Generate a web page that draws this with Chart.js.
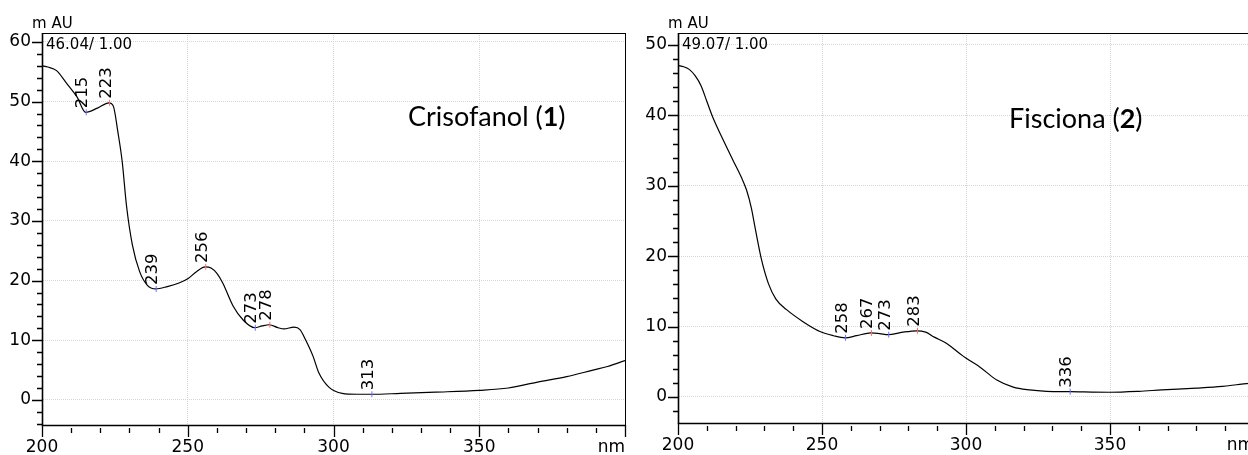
<!DOCTYPE html>
<html>
<head>
<meta charset="utf-8">
<script src="https://cdn.jsdelivr.net/npm/chart.js@4.4.1/dist/chart.umd.min.js"></script>
<style>
  html, body { margin: 0; padding: 0; background: #fff; overflow: hidden; }
  body { width: 1248px; height: 455px; position: relative; }
  .panel { position: absolute; top: 0; height: 455px; }
</style>
</head>
<body>
<div class="panel" style="left:0;width:640px"><canvas id="c1"></canvas></div>
<div class="panel" style="left:630px;width:640px"><canvas id="c2"></canvas></div>
<script>
// Crisofanol (1) - wavelength (nm) / absorbance (mAU)
const wl1 = [200, 202, 205, 208.4, 212, 215, 219, 223, 224.5, 226, 227.5, 229, 231, 233.5, 236, 239,
  243, 247, 250, 253, 256, 258, 260, 262, 265.5, 269, 273, 275.5, 278, 281, 283, 286.5, 288.5, 290.5,
  293, 295, 298.5, 303, 308, 313, 323, 335, 350, 360, 370, 380, 389, 394, 400];
const abs1 = [56.0, 55.8, 55.2, 53.1, 50.8, 48.2, 48.9, 49.8, 49.2, 45.0, 40.0, 32.5, 26.0, 21.5, 19.3, 18.6,
  19.0, 19.6, 20.3, 21.5, 22.3, 22.1, 21.2, 19.6, 15.8, 13.4, 12.1, 12.4, 12.6, 12.1, 11.9, 12.2, 11.8, 10.0,
  7.3, 4.5, 2.1, 1.1, 0.95, 0.95, 1.1, 1.3, 1.6, 2.0, 3.0, 3.9, 5.0, 5.6, 6.6];
const peaks1 = [215, 223, 239, 256, 273, 278, 313];
const kinds1 = ['min', 'max', 'min', 'max', 'min', 'max', 'min'];
const yTicks1 = [-4, -2, 0, 2, 4, 6, 8, 10, 12, 14, 16, 18, 20, 22, 24, 26, 28, 30,
  32, 34, 36, 38, 40, 42, 44, 46, 48, 50, 52, 54, 56, 58, 60];

// Fisciona (2)
const wl2 = [200, 202, 204, 206, 208, 210, 212, 215, 219, 222, 223.8, 225.5, 226.7, 229, 231.4, 234,
  237.7, 243.4, 249.3, 254, 258, 262, 267, 270, 273, 278, 283, 286, 289, 293.3, 299, 302, 305, 310.7,
  316.4, 322, 328, 336, 350, 360, 368, 380, 389, 395, 400];
const abs2 = [47.1, 46.9, 46.5, 45.6, 44.2, 42.0, 39.8, 37.1, 33.7, 31.2, 29.4, 26.8, 24.2, 19.5, 16.1, 13.9,
  12.4, 10.7, 9.3, 8.7, 8.4, 8.7, 9.1, 9.0, 8.85, 9.2, 9.4, 9.2, 8.5, 7.6, 5.8, 5.0, 4.2, 2.4,
  1.4, 1.0, 0.8, 0.75, 0.67, 0.8, 1.0, 1.25, 1.5, 1.8, 2.0];
const peaks2 = [258, 267, 273, 283, 336];
const kinds2 = ['min', 'max', 'min', 'max', 'min'];
const yTicks2 = [-2, 0, 2, 4, 6, 8, 10, 12, 14, 16, 18, 20, 22, 24, 26, 28, 30,
  32, 34, 36, 38, 40, 42, 44, 46, 48, 50];

// shared wavelength axis
const xTickValues = [200, 210, 220, 230, 240, 250, 260, 270, 280, 290, 300,
  310, 320, 330, 340, 350, 360, 370, 380, 390, 400];
const xMajor = 50;
const yMajor = 10;

const tickFont = { family: '"DejaVu Sans"', size: 17 };

const isMult = (v, m) => Math.abs(v / m - Math.round(v / m)) < 1e-6;

const spectrumDecor = {
  id: 'spectrumDecor',
  afterDraw(chart, args, o) {
    const { ctx, chartArea: a, scales: { x, y } } = chart;
    ctx.save();
    ctx.strokeStyle = '#000';

    // frame
    ctx.lineWidth = 1;
    ctx.strokeRect(a.left + 0.5, a.top + 0.5, a.right - a.left, a.bottom - a.top);
    ctx.lineWidth = 1.6;
    ctx.beginPath();
    ctx.moveTo(a.left + 0.5, a.top);
    ctx.lineTo(a.left + 0.5, a.bottom + 0.5);
    ctx.lineTo(a.right + 1, a.bottom + 0.5);
    ctx.stroke();

    // tick marks, long at the labelled values
    ctx.lineWidth = 1.3;
    ctx.beginPath();
    x.ticks.forEach(t => {
      const px = Math.round(x.getPixelForValue(t.value)) + 0.5;
      const major = isMult(t.value, xMajor);
      ctx.moveTo(px, a.bottom + (major ? 0 : 3));
      ctx.lineTo(px, a.bottom + (major ? 12 : 8));
    });
    y.ticks.forEach(t => {
      const py = Math.round(y.getPixelForValue(t.value)) + 0.5;
      const major = isMult(t.value, yMajor);
      ctx.moveTo(a.left - (major ? 10 : 5), py);
      ctx.lineTo(a.left, py);
    });
    ctx.stroke();

    ctx.fillStyle = '#000';
    ctx.textAlign = 'left';
    ctx.textBaseline = 'alphabetic';
    ctx.font = '15px "DejaVu Sans"';
    ctx.fillText('m AU', a.left - 10, 28);
    ctx.fillText(o.header, a.left + 4, a.top + 16);

    ctx.font = '17px "DejaVu Sans"';
    ctx.textAlign = 'right';
    ctx.fillText('nm', x.getPixelForValue(x.max), a.bottom + 27);

    // peak markers and labels
    o.peaks.forEach((p, i) => {
      const idx = o.wl.indexOf(p);
      const px = x.getPixelForValue(p);
      const py = y.getPixelForValue(o.abs[idx]);
      ctx.strokeStyle = o.kinds[i] === 'max' ? '#ff7070' : '#7070ff';
      ctx.lineWidth = 1;
      ctx.beginPath();
      ctx.moveTo(px + 0.5, py - 3);
      ctx.lineTo(px + 0.5, py + 3);
      ctx.stroke();
      ctx.save();
      ctx.translate(px + 1.5, py - 4);
      ctx.rotate(-Math.PI / 2);
      ctx.font = '16.5px "DejaVu Sans"';
      ctx.textAlign = 'left';
      ctx.fillStyle = '#000';
      ctx.fillText(String(p), 0, 0);
      ctx.restore();
    });

    // compound title, number in bold
    let tx = o.titleX;
    ctx.textAlign = 'left';
    o.title.forEach((part, i) => {
      ctx.font = (i === 1 ? 'bold ' : '') + '27px Lato';
      ctx.fillText(part, tx, o.titleY);
      tx += ctx.measureText(part).width;
    });
    ctx.restore();
  }
};

function makeChart(id, wl, abs, yTicks, yMin, yMax, yWidth, xHeight, padRight, decor) {
  return new Chart(document.getElementById(id), {
    type: 'line',
    data: {
      datasets: [{
        data: wl.map((w, i) => ({ x: w, y: abs[i] })),
        borderColor: '#000',
        borderWidth: 1.2,
        pointRadius: 0,
        fill: false,
        cubicInterpolationMode: 'monotone'
      }]
    },
    options: {
      responsive: true,
      maintainAspectRatio: false,
      animation: false,
      layout: { padding: { top: 33, right: padRight, left: 0, bottom: 0 } },
      plugins: {
        legend: { display: false },
        tooltip: { enabled: false },
        spectrumDecor: decor
      },
      scales: {
        x: {
          type: 'linear',
          min: xTickValues[0],
          max: xTickValues[xTickValues.length - 1],
          afterFit: s => { s.height = xHeight; },
          afterBuildTicks: s => { s.ticks = xTickValues.map(v => ({ value: v })); },
          ticks: {
            autoSkip: false,
            maxRotation: 0,
            padding: 12,
            color: '#000',
            font: tickFont,
            callback: v => (isMult(v, xMajor) && v < xTickValues[xTickValues.length - 1]) ? v : ''
          },
          grid: {
            drawTicks: false,
            color: c => (c.tick && isMult(c.tick.value, xMajor)) ? '#d6d6d6' : 'rgba(0,0,0,0)',
            lineWidth: 1
          },
          border: { display: true, color: '#000', dash: [1, 1] }
        },
        y: {
          min: yMin,
          max: yMax,
          afterFit: s => { s.width = yWidth; },
          afterBuildTicks: s => { s.ticks = yTicks.map(v => ({ value: v })); },
          ticks: {
            autoSkip: false,
            padding: 11,
            color: '#000',
            font: tickFont,
            callback: v => isMult(v, yMajor) ? v : ''
          },
          grid: {
            drawTicks: false,
            color: c => (c.tick && isMult(c.tick.value, yMajor)) ? '#d6d6d6' : 'rgba(0,0,0,0)',
            lineWidth: 1
          },
          border: { display: true, color: '#000', dash: [1, 1] }
        }
      }
    },
    plugins: [spectrumDecor]
  });
}

makeChart('c1', wl1, abs1, yTicks1, -4.2, 61.5, 42, 30, 15, {
  wl: wl1, abs: abs1, peaks: peaks1, kinds: kinds1,
  header: '46.04/ 1.00',
  title: ['Crisofanol (', '1', ')'], titleX: 408, titleY: 126
});

makeChart('c2', wl2, abs2, yTicks2, -3.7, 51.7, 48, 32, 16, {
  wl: wl2, abs: abs2, peaks: peaks2, kinds: kinds2,
  header: '49.07/ 1.00',
  title: ['Fisciona (', '2', ')'], titleX: 379, titleY: 128
});
</script>
</body>
</html>
